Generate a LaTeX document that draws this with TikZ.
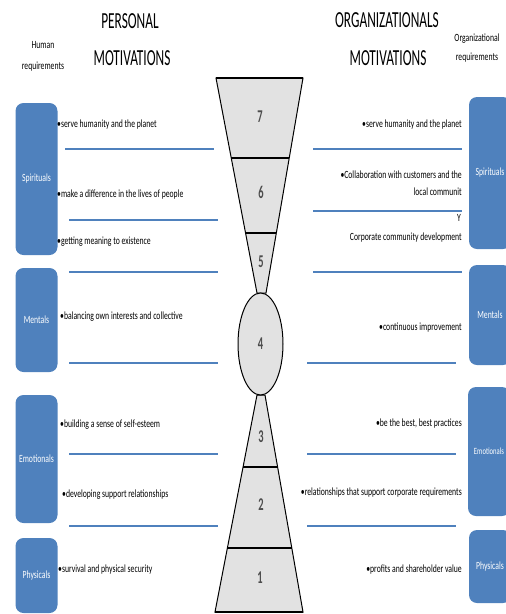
\documentclass[tikz,border=0pt]{standalone}
\usepackage{fontspec}
\setmainfont{Carlito}[FakeStretch=0.7]
\newfontfamily\headfont{Carlito}[FakeStretch=0.58]
\usetikzlibrary{shapes.geometric}
\definecolor{boxblue}{HTML}{4F81BD}
\definecolor{glassgray}{HTML}{E2E2E2}
\definecolor{numgray}{HTML}{4D4D4D}

\begin{document}
\begin{tikzpicture}[x=1pt, y=-1pt,
  every node/.style={inner sep=0pt},
  reqbox/.style={fill=boxblue, rounded corners=8pt, minimum width=42pt, text=white, font=\fontsize{11}{12}\selectfont},
  item/.style={font=\fontsize{11}{12}\selectfont},
  sepline/.style={boxblue, line width=1.3pt},
  heading/.style={font=\headfont\fontsize{23}{26}\selectfont},
  level/.style={font=\headfont\bfseries\fontsize{18}{20}\selectfont, text=numgray},
  glass/.style={fill=glassgray, draw=black, line width=1pt},
  divider/.style={line width=2pt}]
  \useasboundingbox (0,0) rectangle (506,614);
  \clip (0,0) rectangle (506,614);

  % headings
  \node (persA) [heading] at (130,21) {PERSONAL};
  \node (persB) [heading] at (132,58) {MOTIVATIONS};
  \node (orgA) [heading] at (387,20) {ORGANIZATIONALS};
  \node (orgB) [heading] at (388,58) {MOTIVATIONS};
  \node (humA) [item] at (43,45) {Human};
  \node (humB) [item] at (43,67) {requirements};
  \node (orgreqA) [item] at (477,39) {Organizational};
  \node (orgreqB) [item] at (477,58) {requirements};

  % requirement boxes
  \node (lspirit) [reqbox, minimum height=152pt] at (36.5,179) {Spirituals};
  \node (lmental) [reqbox, minimum height=104pt] at (36.5,320) {Mentals};
  \node (lemotion) [reqbox, minimum height=128pt] at (36.5,459) {Emotionals};
  \node (lphysic) [reqbox, minimum height=75pt] at (36.5,575.5) {Physicals};
  \node (rspirit) [reqbox, minimum height=152pt] at (490,173) {Spirituals};
  \node (rmental) [reqbox, minimum height=100pt] at (490,315) {Mentals};
  \node (remotion) [reqbox, minimum height=129pt, font=\fontsize{9.5}{11}\selectfont] at (489,451.5) {Emotionals};
  \node (rphysic) [reqbox, minimum height=73pt] at (490,566.5) {Physicals};

  % hourglass
  \filldraw[glass] (216,78) -- (303,78) -- (266,293) -- (257,293) -- cycle;
  \filldraw[glass] (257,395) -- (265,395) -- (303,612) -- (215,612) -- cycle;
  \draw[divider] (216,78) -- (303,78);
  \draw[divider] (231.3,158) -- (289.2,158);
  \draw[divider] (245.6,233) -- (276.3,233);
  \draw[divider] (243.1,467) -- (277.6,467);
  \draw[divider] (227.4,548) -- (291.8,548);
  \draw[divider] (215,612) -- (303,612);
  \node (lvlfour) [ellipse, glass, level, minimum width=45pt, minimum height=102pt] at (260.5,344) {4};
  \node (lvlseven) [level] at (260,117) {7};
  \node (lvlsix) [level] at (261,192) {6};
  \node (lvlfive) [level] at (261,262) {5};
  \node (lvlthree) [level] at (261,437) {3};
  \node (lvltwo) [level] at (261,505) {2};
  \node (lvlone) [level] at (260,578) {1};

  % personal motivations
  \node (pserve) [item, anchor=west] at (57,125) {\textbullet serve humanity and the planet};
  \node (pdiff) [item, anchor=west] at (57,195) {\textbullet make a difference in the lives of people};
  \node (pmean) [item, anchor=west] at (57,242) {\textbullet getting meaning to existence};
  \node (pbal) [item, anchor=west] at (60,317) {\textbullet balancing own interests and collective};
  \node (pself) [item, anchor=west] at (60,425) {\textbullet building a sense of self-esteem};
  \node (psupp) [item, anchor=west] at (62,495) {\textbullet developing support relationships};
  \node (psurv) [item, anchor=west] at (58,570) {\textbullet survival and physical security};
  \draw[sepline] (65,149) -- (214,149);
  \foreach \yy in {220,272,363,454,526}
    \draw[sepline] (69,\yy) -- (218,\yy);

  % organizational motivations
  \node (oserve) [item, anchor=east] at (462,125) {\textbullet serve humanity and the planet};
  \node (ocollA) [item, anchor=east] at (462,175) {\textbullet Collaboration with customers and the};
  \node (ocollB) [item, anchor=east] at (462,192) {local communit};
  \node (ocollC) [item, anchor=east] at (461,218) {Y};
  \node (ocorp) [item, anchor=east] at (462,238) {Corporate community development};
  \node (ocont) [item, anchor=east] at (462,328) {\textbullet continuous improvement};
  \node (obest) [item, anchor=east] at (462,424) {\textbullet be the best, best practices};
  \node (orel) [item, anchor=east] at (462,493) {\textbullet relationships that support corporate requirements};
  \node (oprof) [item, anchor=east] at (462,570) {\textbullet profits and shareholder value};
  \foreach \yy in {149,211,272}
    \draw[sepline] (313,\yy) -- (462,\yy);
  \foreach \yy in {363,454,526}
    \draw[sepline] (307,\yy) -- (456,\yy);
\end{tikzpicture}
\end{document}
